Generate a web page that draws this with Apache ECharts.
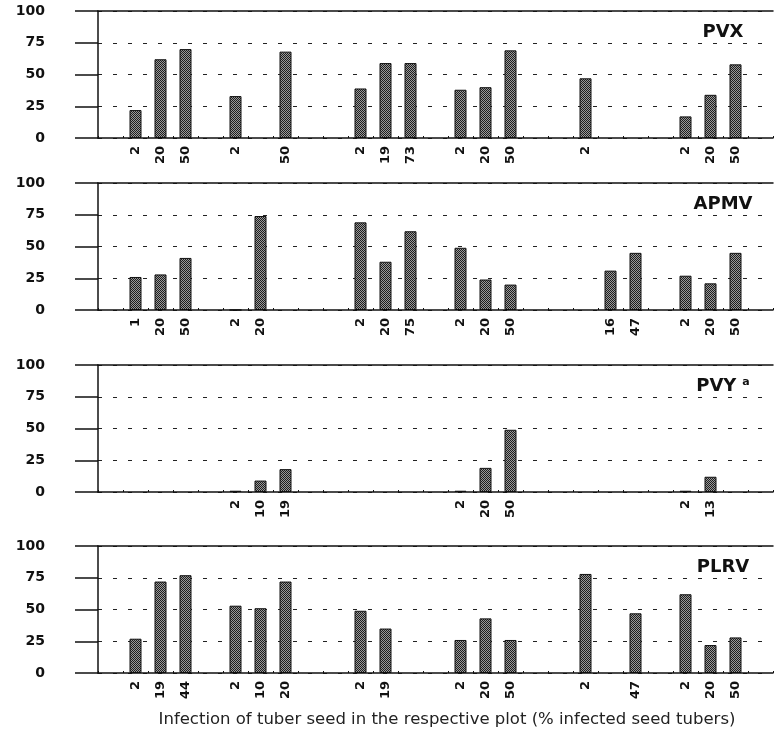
<!DOCTYPE html>
<html>
<head>
<meta charset="utf-8">
<script src="https://cdn.jsdelivr.net/npm/echarts@6/dist/echarts.min.js"></script>
<style>
  html, body { margin: 0; background: #fff; }
  #chart { width: 775px; height: 731px; }
</style>
</head>
<body>
<div id="chart"></div>
<script>
// one category per slot (27 slots), three slots per plot group, empty slots in between
const pvxLabels = ['', '2', '20', '50', '', '2', '', '50', '', '', '2', '19', '73', '', '2', '20', '50', '', '', '2', '', '', '', '2', '20', '50', '']
const pvxValues = [null, 22, 62, 70, null, 33, null, 68, null, null, 39, 59, 59, null, 38, 40, 69, null, null, 47, null, null, null, 17, 34, 58, null]

const apmvLabels = ['', '1', '20', '50', '', '2', '20', '', '', '', '2', '20', '75', '', '2', '20', '50', '', '', '', '16', '47', '', '2', '20', '50', '']
const apmvValues = [null, 26, 28, 41, null, 0, 74, null, null, null, 69, 38, 62, null, 49, 24, 20, null, null, null, 31, 45, null, 27, 21, 45, null]

const pvyLabels = ['', '', '', '', '', '2', '10', '19', '', '', '', '', '', '', '2', '20', '50', '', '', '', '', '', '', '2', '13', '', '']
const pvyValues = [null, null, null, null, null, 1, 9, 18, null, null, null, null, null, null, 1, 19, 49, null, null, null, null, null, null, 1, 12, null, null]

const plrvLabels = ['', '2', '19', '44', '', '2', '10', '20', '', '', '2', '19', '', '', '2', '20', '50', '', '', '2', '', '47', '', '2', '20', '50', '']
const plrvValues = [null, 27, 72, 77, null, 53, 51, 72, null, null, 49, 35, null, null, 26, 43, 26, null, null, 78, null, 47, null, 62, 22, 28, null]

const panelNames = ['PVX', 'APMV', 'PVY', 'PLRV']
const yTicks = [0, 25, 50, 75, 100]
const xTitle = 'Infection of tuber seed in the respective plot (% infected seed tubers)'

const panels = [
  { labels: pvxLabels, values: pvxValues, top: 11 },
  { labels: apmvLabels, values: apmvValues, top: 183 },
  { labels: pvyLabels, values: pvyValues, top: 365 },
  { labels: plrvLabels, values: plrvValues, top: 546 }
]
const panelHeight = 127

// stippled fill like the printed bars
function stipple() {
  const c = document.createElement('canvas')
  c.width = 2
  c.height = 2
  const ctx = c.getContext('2d')
  ctx.fillStyle = '#9a9a9a'
  ctx.fillRect(0, 0, 2, 2)
  ctx.fillStyle = '#1e1e1e'
  ctx.fillRect(0, 0, 1, 1)
  ctx.fillRect(1, 1, 1, 1)
  return c
}

const chart = echarts.init(document.getElementById('chart'))
const ink = '#111'
const boldFont = 'DejaVu Sans'

const options = {
  backgroundColor: '#fff',
  animation: false,
  grid: [],
  xAxis: [],
  yAxis: [],
  series: [],
  title: []
}

panels.forEach((p, i) => {
  options.grid.push({ left: 98, right: 2, top: p.top, height: panelHeight })
  // bottom category axis with the seed infection labels
  options.xAxis.push({
    type: 'category',
    gridIndex: i,
    data: p.labels,
    boundaryGap: true,
    axisLine: { lineStyle: { color: ink, width: 1.5 } },
    axisTick: { show: true, inside: true, length: 2, interval: 0, lineStyle: { color: ink } },
    axisLabel: {
      interval: 0,
      rotate: 90,
      margin: 8,
      color: ink,
      fontFamily: boldFont,
      fontWeight: 'bold',
      fontSize: 13
    }
  })
  // top frame line
  options.xAxis.push({
    type: 'category',
    gridIndex: i,
    position: 'top',
    data: p.labels,
    axisLine: { lineStyle: { color: ink, width: 1.5 } },
    axisTick: { show: false },
    axisLabel: { show: false }
  })
  options.yAxis.push({
    type: 'value',
    gridIndex: i,
    min: yTicks[0],
    max: yTicks[yTicks.length - 1],
    interval: 25,
    axisLine: { show: true, lineStyle: { color: ink, width: 1.5 } },
    axisTick: { show: true, length: 23, lineStyle: { color: ink, width: 1.5 } },
    axisLabel: {
      margin: 53,
      color: ink,
      fontFamily: boldFont,
      fontWeight: 'bold',
      fontSize: 14
    },
    splitLine: { show: true, lineStyle: { color: '#222', width: 1, type: [4, 11] } }
  })
  options.series.push({
    type: 'bar',
    xAxisIndex: i * 2,
    yAxisIndex: i,
    data: p.values,
    barWidth: 12,
    itemStyle: {
      color: { image: stipple(), repeat: 'repeat' },
      borderColor: '#111',
      borderWidth: 1
    }
  })
  options.title.push({
    text: i === 2 ? '{m|' + panelNames[i] + '}{s|a}' : panelNames[i],
    left: 718,
    top: p.top + 7,
    textAlign: 'center',
    textStyle: {
      fontFamily: boldFont,
      fontWeight: 'bold',
      fontSize: 18,
      lineHeight: 18,
      color: ink,
      rich: {
        m: { fontFamily: boldFont, fontWeight: 'bold', fontSize: 18, color: ink },
        s: { fontFamily: boldFont, fontWeight: 'bold', fontSize: 11, color: ink, verticalAlign: 'top', padding: [0, 0, 6, 6] }
      }
    }
  })
})

options.title.push({
  text: xTitle,
  left: 442,
  top: 706,
  textAlign: 'center',
  textStyle: {
    fontFamily: 'DejaVu Sans',
    fontWeight: 'normal',
    fontSize: 16.5,
    color: '#222'
  }
})

chart.setOption(options)
</script>
</body>
</html>
